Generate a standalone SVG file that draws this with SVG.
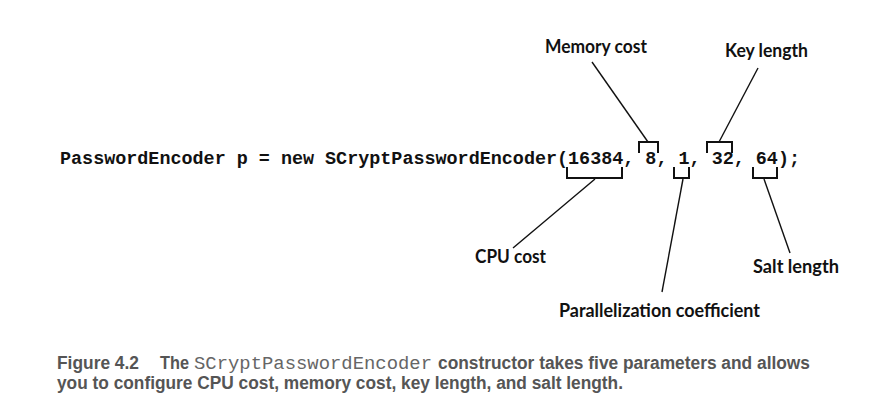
<svg xmlns="http://www.w3.org/2000/svg" width="884" height="412" viewBox="0 0 884 412">
<style>
.code{font-family:"Liberation Mono","Courier New",monospace;font-weight:bold;font-size:18.3px;fill:#111}
.lbl{font-family:Lato,"Open Sans",sans-serif;font-weight:bold;font-size:19px;fill:#111}
.br{fill:none;stroke:#111;stroke-width:2;stroke-linejoin:miter}
.ln{fill:none;stroke:#111;stroke-width:1.4}
.cap{font-family:"Liberation Sans",Arial,sans-serif;font-weight:bold;font-size:18px;fill:#555}
.capm{font-family:"Liberation Mono","Courier New",monospace;font-size:18.5px;fill:#666}
</style>
<rect width="884" height="412" fill="#fff"/>
<g id="code">
<text class="code" x="60" y="164" textLength="740" lengthAdjust="spacingAndGlyphs" xml:space="preserve">PasswordEncoder p = new SCryptPasswordEncoder(16384, 8, 1, 32, 64);</text>
</g>
<g id="brackets">
<path class="br" d="M567,167 V178 H622 V167"/>
<path class="br" d="M639,153 V142 H658 V153"/>
<path class="br" d="M674,167 V178 H689 V167"/>
<path class="br" d="M707,153 V142 H732 V153"/>
<path class="br" d="M753,167 V178 H777 V167"/>
</g>
<g id="connectors">
<line class="ln" x1="592" y1="62" x2="648" y2="142"/>
<line class="ln" x1="758" y1="68" x2="719" y2="142"/>
<line class="ln" x1="595" y1="179" x2="513" y2="248"/>
<line class="ln" x1="683" y1="179" x2="662" y2="292"/>
<line class="ln" x1="764" y1="179" x2="790" y2="253"/>
</g>
<g id="memory-cost"><text class="lbl" x="545" y="53" textLength="102" lengthAdjust="spacingAndGlyphs">Memory cost</text></g>
<g id="key-length"><text class="lbl" x="725" y="57" textLength="83" lengthAdjust="spacingAndGlyphs">Key length</text></g>
<g id="cpu-cost"><text class="lbl" x="475" y="263" textLength="71" lengthAdjust="spacingAndGlyphs">CPU cost</text></g>
<g id="salt-length"><text class="lbl" x="753" y="273" textLength="86" lengthAdjust="spacingAndGlyphs">Salt length</text></g>
<g id="parallelization"><text class="lbl" x="559" y="317" textLength="201" lengthAdjust="spacingAndGlyphs">Parallelization coefficient</text></g>
<g id="caption">
<text class="cap" x="57" y="369" textLength="82" lengthAdjust="spacingAndGlyphs">Figure 4.2</text>
<text class="cap" x="160" y="369" textLength="29" lengthAdjust="spacingAndGlyphs">The</text>
<text class="capm" x="194" y="369" textLength="238" lengthAdjust="spacingAndGlyphs">SCryptPasswordEncoder</text>
<text class="cap" x="438" y="369" textLength="372" lengthAdjust="spacingAndGlyphs">constructor takes five parameters and allows</text>
<text class="cap" x="57" y="389" textLength="566" lengthAdjust="spacingAndGlyphs">you to configure CPU cost, memory cost, key length, and salt length.</text>
</g>
</svg>
